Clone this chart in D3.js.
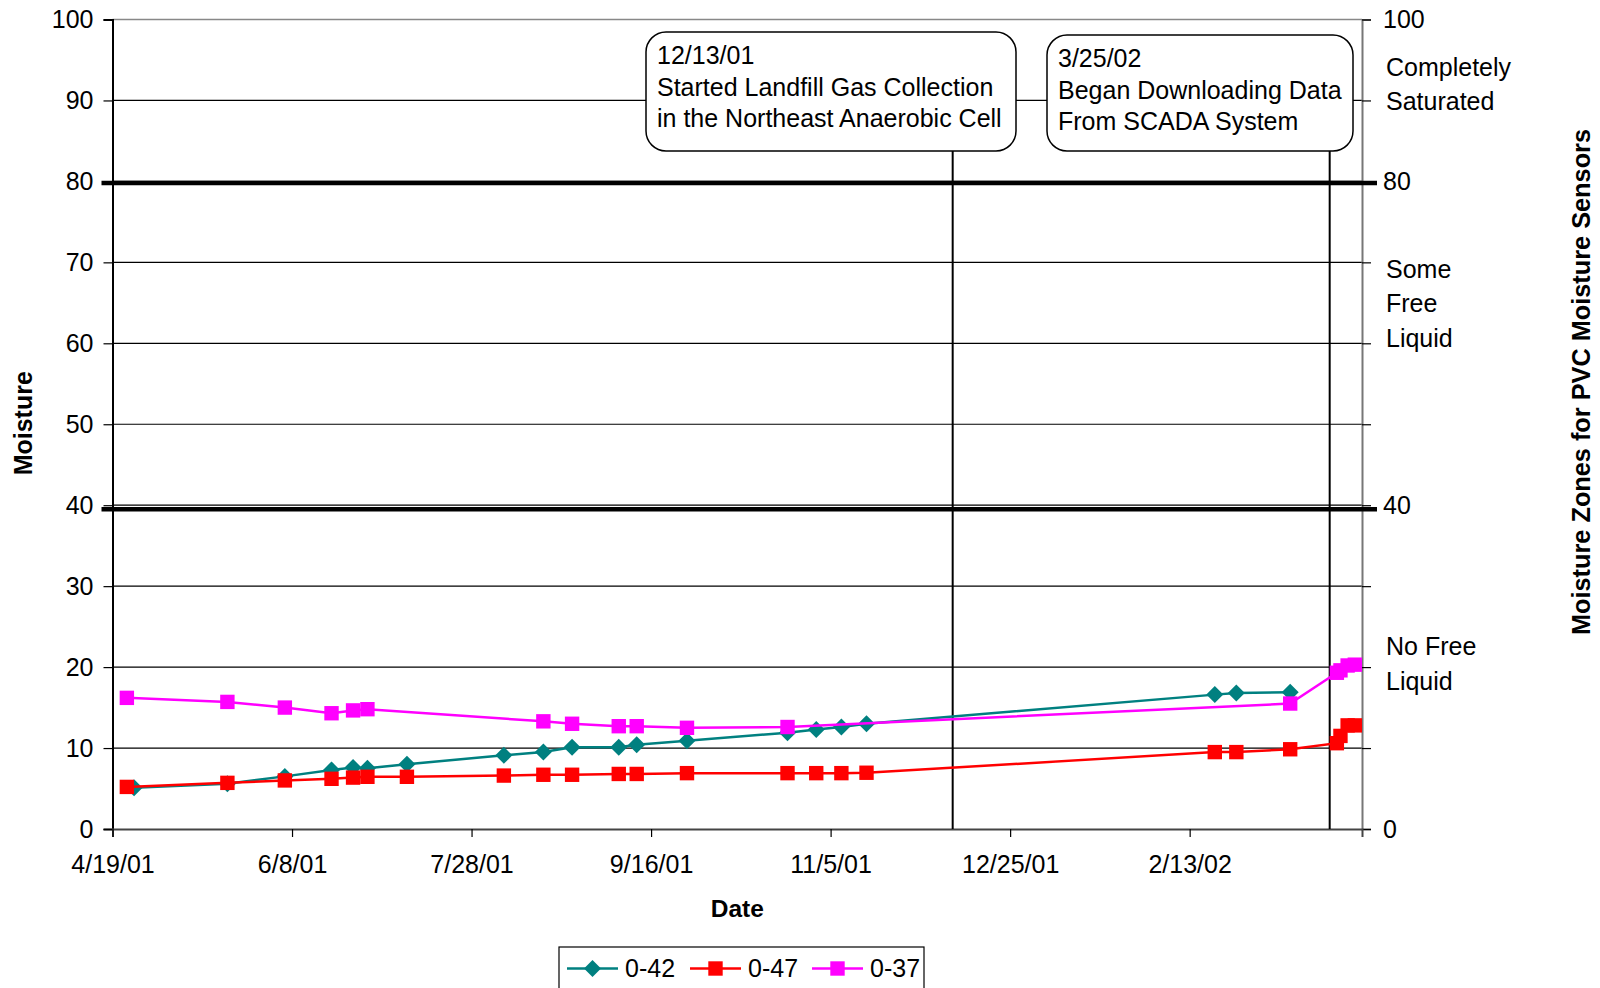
<!DOCTYPE html>
<html><head><meta charset="utf-8">
<script src="https://cdnjs.cloudflare.com/ajax/libs/d3/7.8.5/d3.min.js"></script>
<style>
body{margin:0;background:#fff;}
svg{display:block;font-family:"Liberation Sans",Arial,sans-serif;}
</style></head>
<body><svg id="c" width="1600" height="988"></svg>
<script>
// ---- data ----
const s042Dates = ["4/25/01","5/21/01","6/6/01","6/19/01","6/25/01","6/29/01","7/10/01","8/6/01","8/17/01","8/25/01","9/7/01","9/12/01","9/26/01","10/24/01","11/1/01","11/8/01","11/15/01","2/20/02","2/26/02","3/13/02"];
const s042Values = [5.1,5.6,6.5,7.3,7.6,7.5,8.0,9.1,9.5,10.1,10.1,10.4,10.9,11.9,12.3,12.6,13.0,16.6,16.8,16.9];

const s047Dates = ["4/23/01","5/21/01","6/6/01","6/19/01","6/25/01","6/29/01","7/10/01","8/6/01","8/17/01","8/25/01","9/7/01","9/12/01","9/26/01","10/24/01","11/1/01","11/8/01","11/15/01","2/20/02","2/26/02","3/13/02","3/26/02","3/27/02","3/29/02","3/31/02"];
const s047Values = [5.2,5.7,6.0,6.2,6.35,6.45,6.45,6.6,6.7,6.7,6.8,6.8,6.9,6.9,6.9,6.9,6.95,9.5,9.5,9.85,10.6,11.5,12.8,12.8];

const s037Dates = ["4/23/01","5/21/01","6/6/01","6/19/01","6/25/01","6/29/01","8/17/01","8/25/01","9/7/01","9/12/01","9/26/01","10/24/01","3/13/02","3/26/02","3/27/02","3/29/02","3/31/02"];
const s037Values = [16.2,15.7,15.0,14.3,14.65,14.8,13.3,13.0,12.7,12.7,12.5,12.6,15.5,19.3,19.6,20.2,20.3];

const seriesNames = ["0-42","0-47","0-37"];
const seriesColors = ["#008080","#ff0000","#ff00ff"];
const seriesMarkers = ["diamond","square","square"];

const xTickLabels = ["4/19/01","6/8/01","7/28/01","9/16/01","11/5/01","12/25/01","2/13/02"];
const xDomain = ["4/19/01","4/2/02"];
const yTicks = [0,10,20,30,40,50,60,70,80,90,100];
const rightTickLabels = [0,40,80,100];
const zoneBounds = [79.8,39.5];
const zoneLabels = [["Completely","Saturated"],["Some","Free","Liquid"],["No Free","Liquid"]];
const zoneLabelCenters = [92,64.9,20.4];
const eventLineDates = ["12/9/01","3/24/02"];
const eventTexts = [["12/13/01","Started Landfill Gas Collection","in the Northeast Anaerobic Cell"],
                    ["3/25/02","Began Downloading Data","From SCADA System"]];

// ---- layout ----
const parse = d3.timeParse("%m/%d/%y");
const L=112.5, R=1362, T=19.5, B=829;
const svg = d3.select("#c");
const x = d3.scaleTime().domain(xDomain.map(parse)).range([L,R]);
const y = d3.scaleLinear().domain([0,100]).range([B,T]);
const FS = 25;

// gridlines
svg.append("g").selectAll("line").data(yTicks.filter(v=>v>0&&v<100)).join("line")
  .attr("x1",L).attr("x2",R).attr("y1",d=>y(d)).attr("y2",d=>y(d))
  .attr("stroke","#000").attr("stroke-width",1.2);
// top border
svg.append("line").attr("x1",L).attr("x2",R).attr("y1",y(100)).attr("y2",y(100)).attr("stroke","#888").attr("stroke-width",1.5);

// left axis
const ya = svg.append("g").attr("transform",`translate(${L},0)`)
  .call(d3.axisLeft(y).tickValues(yTicks).tickSize(9).tickPadding(10).tickFormat(d3.format("d")));
ya.select(".domain").attr("stroke","#000").attr("stroke-width",2);
ya.selectAll(".tick line").attr("stroke","#000").attr("stroke-width",1.2);
ya.selectAll("text").attr("font-size",FS).attr("fill","#000").attr("font-family","Liberation Sans, Arial, sans-serif");

// right axis
const ra = svg.append("g").attr("transform",`translate(${R},0)`)
  .call(d3.axisRight(y).tickValues(yTicks).tickSize(9).tickPadding(12).tickFormat(d=>rightTickLabels.includes(d)?d:""));
ra.select(".domain").attr("stroke","#777").attr("stroke-width",2);
ra.selectAll(".tick line").attr("stroke","#000").attr("stroke-width",1.2);
ra.selectAll("text").attr("font-size",FS).attr("fill","#000").attr("font-family","Liberation Sans, Arial, sans-serif");

// bottom axis
const xTickDates = xTickLabels.map(parse);
const xa = svg.append("g").attr("transform",`translate(0,${B})`)
  .call(d3.axisBottom(x).tickValues(xTickDates).tickSize(8).tickPadding(18).tickFormat((d,i)=>xTickLabels[i]));
xa.select(".domain").attr("stroke","#444").attr("stroke-width",2);
xa.selectAll(".tick line").attr("stroke","#000").attr("stroke-width",1.2);
xa.selectAll("text").attr("font-size",FS).attr("fill","#000").attr("font-family","Liberation Sans, Arial, sans-serif");

// zone boundary lines
svg.append("g").selectAll("line").data(zoneBounds).join("line")
  .attr("x1",L-11).attr("x2",R+15).attr("y1",d=>y(d)).attr("y2",d=>y(d))
  .attr("stroke","#000").attr("stroke-width",4.5);

// zone labels
zoneLabels.forEach((lines,i)=>{
  const t = svg.append("text").attr("x",R+24).attr("font-size",FS).attr("fill","#000");
  const lh = 34.5;
  const y0 = y(zoneLabelCenters[i]) - (lines.length-1)*lh/2;
  lines.forEach((s,j)=>t.append("tspan").attr("x",R+24).attr("y",y0+j*lh).attr("dy","0.35em").text(s));
});

// event lines and boxes
const boxes = [{x0:646,y0:32,w:370,h:119},{x0:1047,y0:35,w:306,h:116}];
eventLineDates.forEach((d,i)=>{
  const xv = x(parse(d));
  svg.append("line").attr("x1",xv).attr("x2",xv).attr("y1",boxes[i].y0+boxes[i].h).attr("y2",B)
    .attr("stroke","#000").attr("stroke-width",2);
});
eventTexts.forEach((lines,i)=>{
  const b = boxes[i];
  svg.append("rect").attr("x",b.x0).attr("y",b.y0).attr("width",b.w).attr("height",b.h)
    .attr("rx",20).attr("ry",20).attr("fill","#fff").attr("stroke","#000").attr("stroke-width",1.5);
  const t = svg.append("text").attr("font-size",FS).attr("fill","#000");
  lines.forEach((s,j)=>t.append("tspan").attr("x",b.x0+11).attr("y",b.y0+32+j*31.7).text(s));
});

// series
function diamondPath(r){return `M0,${-r}L${r},0L0,${r}L${-r},0Z`;}
function squarePath(h){return `M${-h},${-h}H${h}V${h}H${-h}Z`;}
const series = [
  {dates:s042Dates, values:s042Values},
  {dates:s047Dates, values:s047Values},
  {dates:s037Dates, values:s037Values}
];
const line = d3.line().x(d=>x(d.date)).y(d=>y(d.v));
series.forEach((s,i)=>{
  const pts = s.dates.map((d,k)=>({date:parse(d), v:s.values[k]}));
  const g = svg.append("g");
  g.append("path").datum(pts).attr("d",line).attr("fill","none").attr("stroke",seriesColors[i]).attr("stroke-width",2.5);
  g.selectAll("path.m").data(pts).join("path").attr("class","m")
    .attr("transform",d=>`translate(${x(d.date)},${y(d.v)})`)
    .attr("d",seriesMarkers[i]==="diamond"?diamondPath(8.5):squarePath(7.2))
    .attr("fill",seriesColors[i]);
});

// axis titles
svg.append("text").attr("x",(L+R)/2).attr("y",917).attr("text-anchor","middle")
  .attr("font-size",24.5).attr("font-weight","bold").text("Date");
svg.append("text").attr("transform",`translate(32,${(T+B)/2-1}) rotate(-90)`).attr("text-anchor","middle")
  .attr("font-size",25).attr("font-weight","bold").text("Moisture");
svg.append("text").attr("transform",`translate(1590,382) rotate(-90)`).attr("text-anchor","middle")
  .attr("font-size",25.3).attr("font-weight","bold").text("Moisture Zones for PVC Moisture Sensors");

// legend
const lg = svg.append("g");
lg.append("rect").attr("x",559).attr("y",947).attr("width",365).attr("height",50)
  .attr("fill","#fff").attr("stroke","#000").attr("stroke-width",1.2);
const lx = [567,690,812];
seriesNames.forEach((n,i)=>{
  const cy = 968.5;
  lg.append("line").attr("x1",lx[i]).attr("x2",lx[i]+51).attr("y1",cy).attr("y2",cy)
    .attr("stroke",seriesColors[i]).attr("stroke-width",2.5);
  lg.append("path").attr("transform",`translate(${lx[i]+25.5},${cy})`)
    .attr("d",seriesMarkers[i]==="diamond"?diamondPath(8.5):squarePath(7.2)).attr("fill",seriesColors[i]);
  lg.append("text").attr("x",lx[i]+58).attr("y",cy).attr("dy","0.35em").attr("font-size",FS).text(n);
});
</script></body></html>
